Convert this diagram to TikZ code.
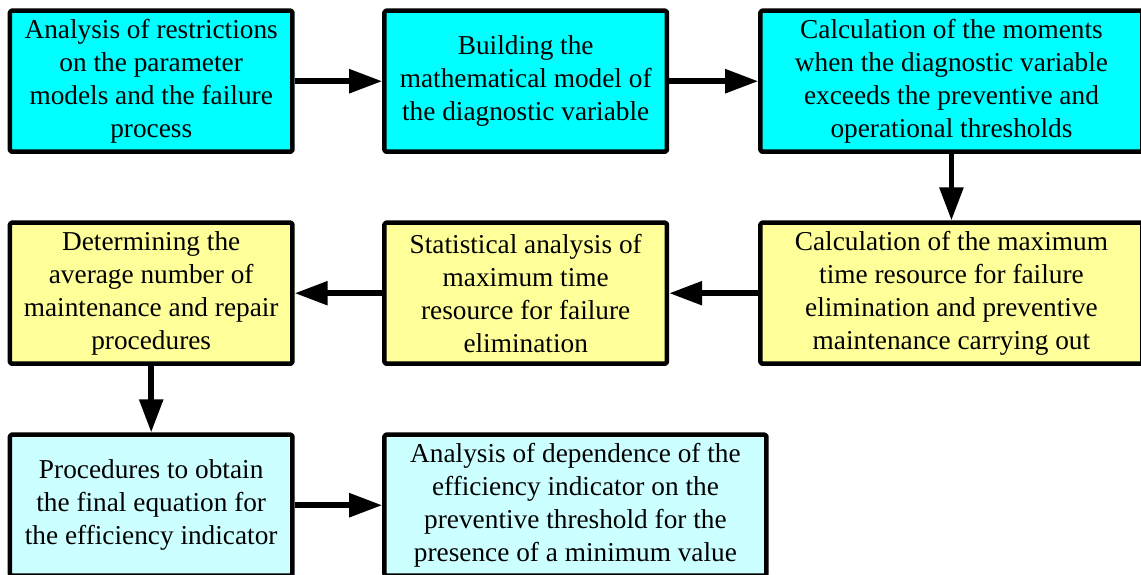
\documentclass[tikz,border=0pt]{standalone}
\usepackage{fontspec}
\setmainfont{Liberation Serif}
\usetikzlibrary{positioning,arrows.meta}
\definecolor{stagecyan}{HTML}{00FFFF}
\definecolor{stageyellow}{HTML}{FFFF99}
\definecolor{stagelight}{HTML}{CCFFFF}
\tikzset{
	stage/.style={draw,line width=2.25pt,line join=round,rounded corners=0.8pt,align=center,minimum width=141.25pt,minimum height=70.5pt,inner sep=0pt,font=\fontsize{13.65}{16.5}\selectfont},
	wide/.style={minimum width=191pt},
	flow/.style={-{Triangle[length=16.5pt,width=11.5pt]},line width=2.75pt}
}
\begin{document}
\begin{tikzpicture}[node distance=33.25pt and 43.75pt]
		\useasboundingbox (0,0) rectangle (570.5pt,-287pt);
		\node[stage,fill=stagecyan] (restr) at (75.6pt,-40.6pt) {Analysis of restrictions\\on the parameter\\models and the failure\\process};
		\node[stage,fill=stagecyan,right=of restr] (model) {Building the\\mathematical model of\\the diagnostic variable};
		\node[stage,fill=stagecyan,wide,right=44.5pt of model] (moments) {Calculation of the moments\\when the diagnostic variable\\exceeds the preventive and\\operational thresholds};
		\node[stage,fill=stageyellow,wide,below=of moments] (maxres) {Calculation of the maximum\\time resource for failure\\elimination and preventive\\maintenance carrying out};
		\node[stage,fill=stageyellow,left=44.5pt of maxres] (stat) {Statistical analysis of\\maximum time\\resource for failure\\elimination};
		\node[stage,fill=stageyellow,left=of stat] (avg) {Determining the\\average number of\\maintenance and repair\\procedures};
		\node[stage,fill=stagelight,below=of avg] (final) {Procedures to obtain\\the final equation for\\the efficiency indicator};
		\node[stage,fill=stagelight,wide,right=of final] (depend) {Analysis of dependence of the\\efficiency indicator on the\\preventive threshold for the\\presence of a minimum value};
		\draw[flow] (restr) -- (model);
		\draw[flow] (model) -- (moments);
		\draw[flow] (moments) -- (maxres);
		\draw[flow] (maxres) -- (stat);
		\draw[flow] (stat) -- (avg);
		\draw[flow] (avg) -- (final);
		\draw[flow] (final) -- (depend);
	\end{tikzpicture}
\end{document}
